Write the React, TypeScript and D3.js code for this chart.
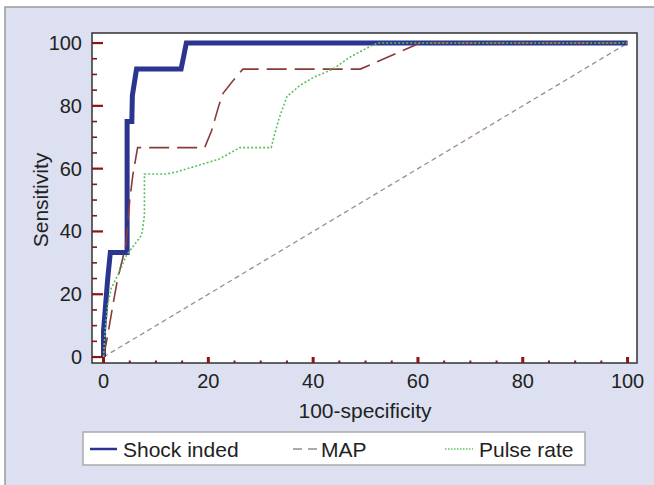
import React from "react";
import * as d3 from "d3";

const xTicks = [0, 20, 40, 60, 80, 100];
const yTicks = [0, 20, 40, 60, 80, 100];
const minorTicks = [5, 10, 15, 25, 30, 35, 45, 50, 55, 65, 70, 75, 85, 90, 95];

const shockIndex: [number, number][] = [
  [0, 0], [0, 8.3], [0.4, 16.7], [0.8, 25], [1.3, 33.3], [4.5, 33.3], [4.5, 75],
  [5.4, 75], [5.5, 83.3], [6.3, 91.7], [14.8, 91.7], [15.3, 95.8], [15.8, 100], [100, 100],
];
const mapCurve: [number, number][] = [
  [0, 0], [0.8, 7], [1.8, 16.7], [2.7, 25], [3.6, 31], [4.3, 36], [5, 50], [5.6, 58],
  [6.5, 66.7], [19.3, 66.7], [20.6, 72], [22, 80], [22.8, 84], [24.7, 88], [26.6, 91.7],
  [49, 91.7], [60.4, 100], [100, 100],
];
const pulseRate: [number, number][] = [
  [0, 0], [0.3, 8.3], [0.8, 16.7], [1.5, 22], [3, 27], [4.4, 32.5], [6, 36], [7.3, 39],
  [7.8, 45], [7.8, 58.3], [12, 58.3], [14, 59], [18, 61], [22, 63], [26, 66.7], [32, 66.7],
  [32.5, 70], [33.5, 76], [35, 83], [37.5, 86.5], [40, 89], [43.8, 91.7], [47, 95.5],
  [51.4, 99.4], [52.5, 100], [100, 100],
];
const diagonal: [number, number][] = [[0, 0], [100, 100]];

const legendLabels = ["Shock inded", "MAP", "Pulse rate"];

const FONT = "'Liberation Sans', Arial, Helvetica, sans-serif";
const TICK = "#8b1414";

export default function App() {
  const left = 92, right = 637, top = 33, bottom = 363;
  const x = d3.scaleLinear().domain([-2.2, 101.8]).range([left, right]);
  const y = d3.scaleLinear().domain([-1.9, 103.2]).range([bottom, top]);
  const line = d3.line<[number, number]>().x((d) => x(d[0])).y((d) => y(d[1]));

  return (
    <svg width={654} height={485} style={{ position: "absolute", left: 0, top: 0, display: "block" }}>
      <rect x={5} y={7} width={700} height={520} fill="#dce0f0" stroke="#9a9a9a" strokeWidth={1.5} />
      <rect x={left} y={top} width={right - left} height={bottom - top} fill="#fff" />

      <path d={line(diagonal) || ""} fill="none" stroke="#a08a90" strokeWidth={1.3} strokeDasharray="5,3.5" />
      <path d={line(shockIndex) || ""} fill="none" stroke="#2b3590" strokeWidth={5} strokeLinejoin="miter" />
      <path d={line(mapCurve) || ""} fill="none" stroke="#8b3a3a" strokeWidth={1.6} strokeDasharray="20,8" />
      <path d={line(pulseRate) || ""} fill="none" stroke="#5cc05c" strokeWidth={1.6} strokeDasharray="2,2" />

      <rect x={left} y={top} width={right - left} height={bottom - top} fill="none" stroke="#333" strokeWidth={1.5} />

      {yTicks.map((t) => (
        <g key={"y" + t}>
          <line x1={left} x2={left + 11} y1={y(t)} y2={y(t)} stroke={TICK} strokeWidth={2.2} />
          <text x={82} y={y(t)} dy="0.35em" textAnchor="end" fontFamily={FONT} fontSize={20} fill="#222">{t}</text>
        </g>
      ))}
      {minorTicks.map((t) => (
        <line key={"ym" + t} x1={left} x2={left + 5} y1={y(t)} y2={y(t)} stroke={TICK} strokeWidth={1.6} />
      ))}
      {xTicks.map((t) => (
        <g key={"x" + t}>
          <line x1={x(t)} x2={x(t)} y1={bottom} y2={bottom - 6} stroke={TICK} strokeWidth={3} />
          <text x={x(t)} y={388} textAnchor="middle" fontFamily={FONT} fontSize={20} fill="#222">{t}</text>
        </g>
      ))}
      {minorTicks.map((t) => (
        <line key={"xm" + t} x1={x(t)} x2={x(t)} y1={bottom} y2={bottom - 2.5} stroke={TICK} strokeWidth={2} />
      ))}

      <text x={365} y={418} textAnchor="middle" fontFamily={FONT} fontSize={21} fill="#222">100-specificity</text>
      <text transform="translate(48,200) rotate(-90)" textAnchor="middle" fontFamily={FONT} fontSize={21} fill="#222">Sensitivity</text>

      <rect x={83} y={432} width={502} height={33} fill="#fff" stroke="#aaa" strokeWidth={1.5} />
      <line x1={90} x2={117} y1={449} y2={449} stroke="#2b3590" strokeWidth={2.5} />
      <text x={123} y={456.5} fontFamily={FONT} fontSize={21} fill="#222">{legendLabels[0]}</text>
      <line x1={293} x2={319} y1={449} y2={449} stroke="#9a8a8a" strokeWidth={1.3} strokeDasharray="9,6" />
      <text x={321} y={456.5} fontFamily={FONT} fontSize={21} fill="#222">{legendLabels[1]}</text>
      <line x1={445} x2={473} y1={449} y2={449} stroke="#5cc05c" strokeWidth={1.3} strokeDasharray="1.5,1.5" />
      <text x={479} y={456.5} fontFamily={FONT} fontSize={21} fill="#222">{legendLabels[2]}</text>
    </svg>
  );
}
